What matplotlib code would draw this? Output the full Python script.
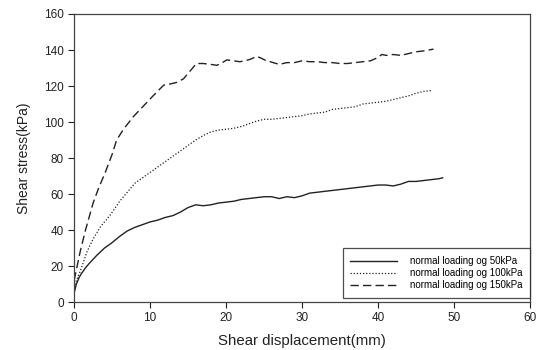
import matplotlib
matplotlib.use("Agg")
import matplotlib.pyplot as plt

plt.rcParams['font.family'] = ['Liberation Sans', 'DejaVu Sans']

# normal loading 50 kPa
x50 = [0, 0.3, 0.7, 1, 1.5, 2, 3, 4, 5, 6, 7, 8, 9, 10, 11, 12, 13, 14, 15, 16, 17, 18, 19, 20,
       21, 22, 23, 24, 25, 26, 27, 28, 29, 30, 31, 32, 33, 34, 35, 36, 37, 38, 39, 40, 41, 42,
       43, 44, 45, 46, 47, 48, 48.5]
y50 = [5, 10, 14, 16, 19, 21.5, 26, 30, 33, 36.5, 39.5, 41.5, 43, 44.5, 45.5, 47, 48, 50, 52.5,
       54, 53.5, 54, 55, 55.5, 56, 57, 57.5, 58, 58.5, 58.5, 57.5, 58.5, 58, 59, 60.5, 61, 61.5,
       62, 62.5, 63, 63.5, 64, 64.5, 65, 65, 64.5, 65.5, 67, 67, 67.5, 68, 68.5, 69]

# normal loading 100 kPa
x100 = [0, 0.3, 0.8, 1.7, 2.5, 3.5, 4.7, 6, 7, 8, 9, 10, 11, 12, 13, 14, 15, 16, 17, 18, 19, 20,
        21, 22, 23, 24, 25, 26, 27, 28, 29, 30, 31, 32, 33, 34, 35, 36, 37, 38, 39, 40, 41, 42,
        43, 44, 45, 46, 47]
y100 = [8, 12, 17, 28, 35, 42, 48, 56, 61, 66, 69, 72, 75, 78, 81, 84, 87, 90, 92.5, 94.5, 95.5,
        96, 96.5, 97.5, 99, 100.5, 101.5, 101.5, 102, 102.5, 103, 103.5, 104.5, 105, 105.5, 107,
        107.5, 108, 108.5, 110, 110.5, 111, 111.5, 112.5, 113.5, 114.5, 116, 117, 117.5]

# normal loading 150 kPa
x150 = [0, 0.3, 0.8, 1.5, 2.5, 3.2, 4.1, 5, 5.6, 6.5, 7.8, 8.7, 9.6, 10.5, 11.2, 11.8, 12.5,
        13.5, 14.4, 15.2, 16.1, 17, 18, 18.8, 19.5, 20.1, 21, 21.8, 22.5, 23.3, 24, 24.6, 25.3,
        25.8, 27, 28, 29, 30, 31, 32, 33, 34, 35, 36, 37, 38, 39, 39.8, 40.5, 41.1, 42, 43, 44,
        45, 46, 47.3]
y150 = [12, 18, 28, 40, 55, 63, 72, 82, 90, 96, 103, 107, 111, 115, 118, 120.5, 121, 122, 124,
        128, 132.5, 132.5, 132, 131.5, 133, 134.5, 134, 133.5, 134, 135, 136.5, 135.5, 134, 133.5,
        132, 133, 133, 134, 133.5, 133.5, 133, 133, 132.5, 132.5, 133, 133.5, 134, 135.5, 137.5,
        137, 137.5, 137, 138, 139, 139.5, 140.5]

labels = ['normal loading og 50kPa', 'normal loading og 100kPa', 'normal loading og 150kPa']

fig = plt.figure(figsize=(5.37, 3.5), dpi=100)
ax = fig.add_axes([0.138, 0.137, 0.849, 0.823])

ax.plot(x50, y50, color='#222222', lw=1.0, ls='-', label=labels[0])
ax.plot(x100, y100, color='#222222', lw=0.9, ls=(0, (1, 1.5)), label=labels[1])
ax.plot(x150, y150, color='#222222', lw=1.0, ls=(0, (6, 3)), label=labels[2])

ax.set_xlim(0, 60)
ax.set_ylim(0, 160)
ax.set_xticks(range(0, 61, 10))
ax.set_yticks(range(0, 161, 20))
ax.tick_params(direction='out', length=4, width=0.8, labelsize=8.5, colors='#222222')
for s in ax.spines.values():
    s.set_color('#444444')
    s.set_linewidth(0.9)

ax.set_xlabel('Shear displacement(mm)', fontsize=10.8, color='#222222', labelpad=7)
ax.set_ylabel('Shear stress(kPa)', fontsize=10, color='#222222', labelpad=9)

# legend box sits flush against the right spine
leg = ax.legend(loc='lower right', bbox_to_anchor=(1.0, 0.015), borderaxespad=0, fontsize=7,
                frameon=True, fancybox=False, handlelength=4.8, handletextpad=1.3,
                borderpad=0.8, labelspacing=0.2)
leg.get_frame().set_edgecolor('#222222')
leg.get_frame().set_linewidth(0.9)

fig.savefig('out.png', dpi=100)
